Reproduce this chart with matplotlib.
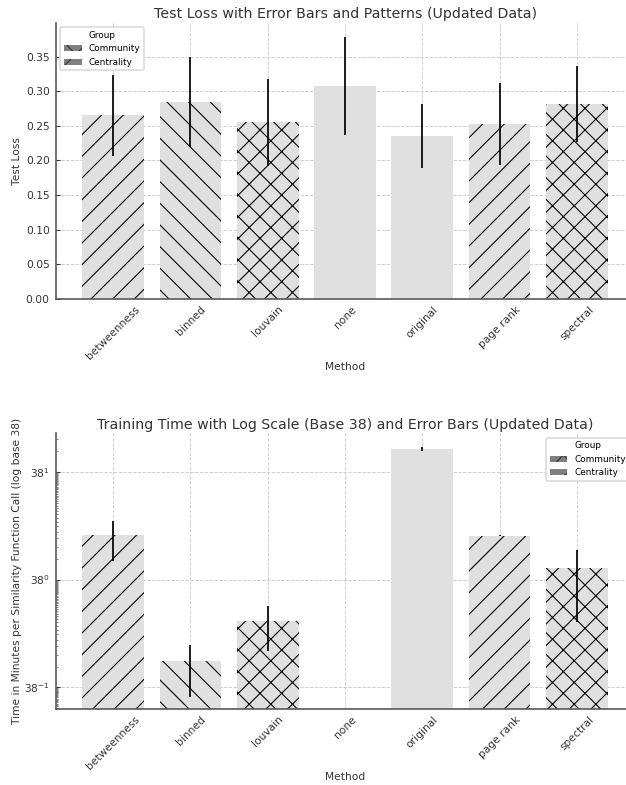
import matplotlib
matplotlib.use("Agg")
import matplotlib.pyplot as plt
import numpy as np
from matplotlib.patches import Patch
from matplotlib.ticker import NullFormatter

# data
methods = ['betweenness', 'binned', 'louvain', 'none', 'original', 'page rank', 'spectral']
hatches = ['//', '\\\\', 'xx', '', '', '//', 'xx']

loss_mean = [0.265, 0.284, 0.255, 0.308, 0.235, 0.253, 0.281]
loss_err = [0.058, 0.065, 0.063, 0.071, 0.046, 0.059, 0.055]

time_mean = [4.55, 0.0638, 0.246, np.nan, 81.3, 4.40, 1.46]
time_err = [2.66, 0.0445, 0.157, np.nan, 6.0, 0.08, 1.22]

legend_labels = ['Community', 'Centrality']
legend_hatches = ['xx', '//']

DPI = 130
plt.rcParams['hatch.linewidth'] = 0.6
plt.rcParams['hatch.color'] = 'black'
plt.rcParams['font.family'] = 'DejaVu Sans'

fig = plt.figure(figsize=(626 / DPI, 785 / DPI), dpi=DPI)
ax1 = fig.add_axes([0.0895, 0.6195, 0.9233, 0.3512])
ax2 = fig.add_axes([0.0895, 0.0972, 0.9233, 0.3508])

x = np.arange(len(methods))
barcolor = '#e0e0e0'


def style(ax):
    for s in ['top', 'right']:
        ax.spines[s].set_visible(False)
    for s in ['left', 'bottom']:
        ax.spines[s].set_color('#555555')
        ax.spines[s].set_linewidth(0.9)
    ax.grid(True, which='major', linestyle='--', linewidth=0.5, color='#cccccc')
    ax.set_axisbelow(True)
    ax.tick_params(axis='x', length=0, labelsize=5.9, pad=3, colors='#333333')
    ax.tick_params(axis='y', which='major', direction='in', length=2, width=0.6,
                   labelsize=5.9, colors='#333333')
    ax.tick_params(axis='y', which='minor', direction='in', length=1.2, width=0.4, colors='#555555')
    ax.set_xticks(x)
    ax.set_xticklabels(methods, rotation=45, ha='center')
    ax.set_xlim(-0.74, 6.74)
    ax.set_xlabel('Method', fontsize=5.9, color='#333333', labelpad=0.6)
    handles = [Patch(facecolor='#808080', edgecolor='#333333', linewidth=0, hatch=h, label=l)
               for h, l in zip(legend_hatches, legend_labels)]
    return handles


# top: test loss
bars = ax1.bar(x, loss_mean, width=0.8, color=barcolor, edgecolor='black', linewidth=0,
               yerr=loss_err, error_kw=dict(ecolor='black', elinewidth=0.95, capsize=0))
for b, h in zip(bars, hatches):
    b.set_hatch(h)
h1 = style(ax1)
ax1.set_ylim(0, 0.3988)
ax1.set_yticks(np.arange(0, 0.351, 0.05))
ax1.set_yticklabels(['%.2f' % v for v in np.arange(0, 0.351, 0.05)])
ax1.set_ylabel('Test Loss', fontsize=5.9, color='#333333')
ax1.yaxis.set_label_coords(-0.059, 0.5)
ax1.set_title('Test Loss with Error Bars and Patterns (Updated Data)', fontsize=7.8,
              color='#333333', pad=2.5)
ax1.legend(handles=h1, title='Group', loc='upper left', fontsize=4.9, title_fontsize=4.9,
           frameon=True, edgecolor='#dddddd', framealpha=1)

# bottom: training time, log base 38
bars = ax2.bar(x, time_mean, width=0.8, color=barcolor, edgecolor='black', linewidth=0,
               yerr=time_err, error_kw=dict(ecolor='black', elinewidth=0.95, capsize=0))
for b, h in zip(bars, hatches):
    b.set_hatch(h)
ax2.set_yscale('log', base=38)
h2 = style(ax2)
ax2.set_ylim(38 ** -1.198, 38 ** 1.356)
ax2.yaxis.set_minor_formatter(NullFormatter())
ax2.set_ylabel('Time in Minutes per Similarity Function Call (log base 38)', fontsize=5.9,
               color='#333333')
ax2.yaxis.set_label_coords(-0.059, 0.5)
ax2.set_title('Training Time with Log Scale (Base 38) and Error Bars (Updated Data)',
              fontsize=7.8, color='#333333', pad=2.5)
ax2.legend(handles=h2, title='Group', loc='upper right', fontsize=4.9, title_fontsize=4.9,
           frameon=True, edgecolor='#dddddd', framealpha=1)

fig.savefig('out.png', dpi=DPI)
